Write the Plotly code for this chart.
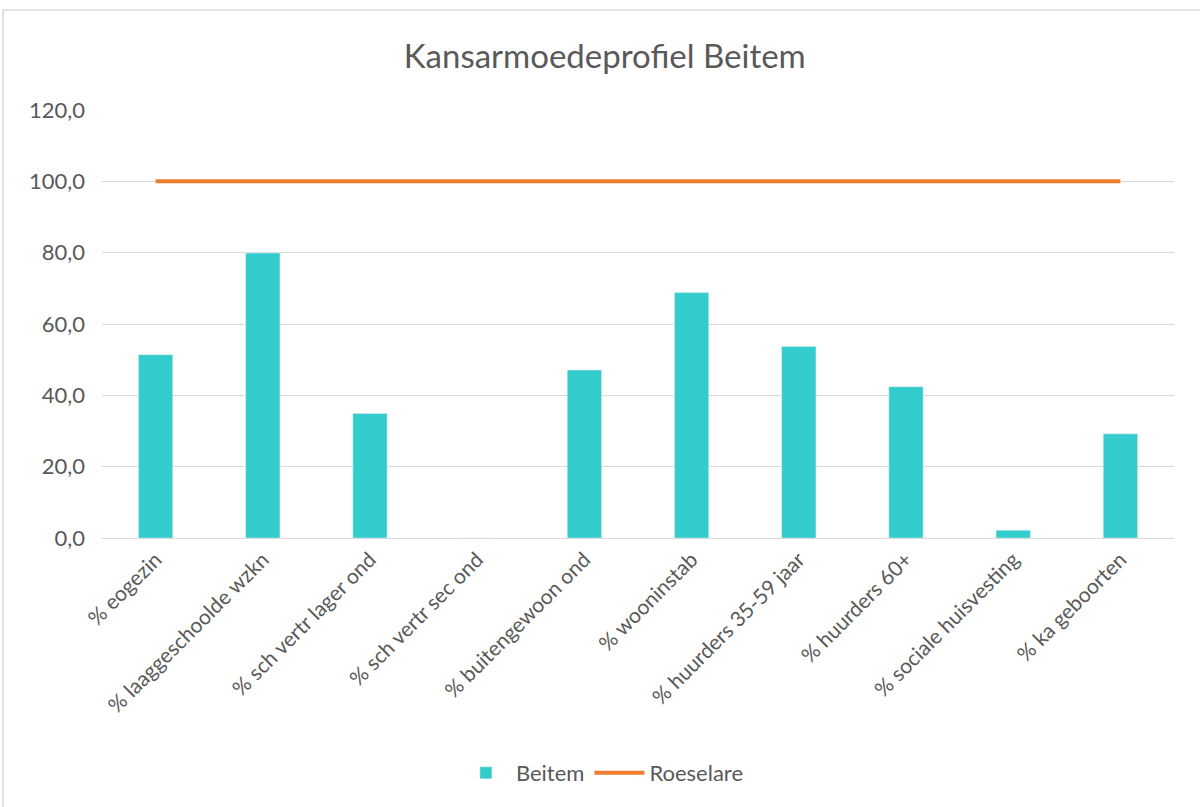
import plotly.graph_objects as go

categories = ["% eogezin", "% laaggeschoolde wzkn", "% sch vertr lager ond", "% sch vertr sec ond",
              "% buitengewoon ond", "% wooninstab", "% huurders 35-59 jaar", "% huurders 60+",
              "% sociale huisvesting", "% ka geboorten"]
beitem = [51.4, 79.9, 34.9, 0.0, 47.1, 68.8, 53.7, 42.4, 2.2, 29.2]
roeselare = [100.0] * 10
y_ticks = [0, 20, 40, 60, 80, 100, 120]

W, H = 1200, 807
L, R, T, B = 102, 26, 110, 269
pw, ph = W - L - R, H - T - B

fig = go.Figure()
fig.add_trace(go.Bar(x=categories, y=beitem, name="Beitem", marker_color="#33CCCC"))
fig.add_trace(go.Scatter(x=categories, y=roeselare, name="Roeselare", mode="lines",
                         line=dict(color="#ED7D31", width=4)))

font = "Lato, 'Open Sans', sans-serif"
fig.update_layout(
    width=W, height=H,
    margin=dict(l=L, r=R, t=T, b=B),
    paper_bgcolor="white", plot_bgcolor="white",
    separators=",.",
    bargap=0.68,
    font=dict(family=font, color="#595959", size=20),
    title=dict(text="Kansarmoedeprofiel Beitem", x=0.504, xanchor="center",
               y=1 - 56 / H, yanchor="middle", font=dict(size=33, color="#595959", family=font)),
    legend=dict(orientation="h", xref="container", yref="container", x=0.502, xanchor="center",
                y=1 - 773 / H, yanchor="middle", font=dict(size=22, color="#595959"),
                traceorder="normal", itemwidth=50),
    showlegend=True,
)
fig.update_yaxes(range=[0, 120], tickvals=y_ticks, tickformat=".1f", gridcolor="#D9D9D9",
                 gridwidth=1, zeroline=False, showline=False, ticks="",
                 ticklabelstandoff=16,
                 tickfont=dict(size=22, color="#595959"))
fig.update_xaxes(tickangle=-45, showline=True, linecolor="#D9D9D9", linewidth=1, ticks="",
                 showgrid=False, tickfont=dict(size=21, color="#595959"))

# chart area border (light grey), extending beyond right/bottom edges
fig.add_shape(type="rect", xref="paper", yref="paper",
              x0=(3 - L) / pw, x1=(W + 5 - L) / pw,
              y0=-(H + 5 - T - ph) / ph, y1=(H - B - 10) / ph,
              line=dict(color="#D9D9D9", width=1.5), fillcolor="rgba(0,0,0,0)", layer="below")

fig.write_html("out.html", config={"displayModeBar": False},
               post_script="document.body.style.margin='0';document.body.style.padding='0';")
